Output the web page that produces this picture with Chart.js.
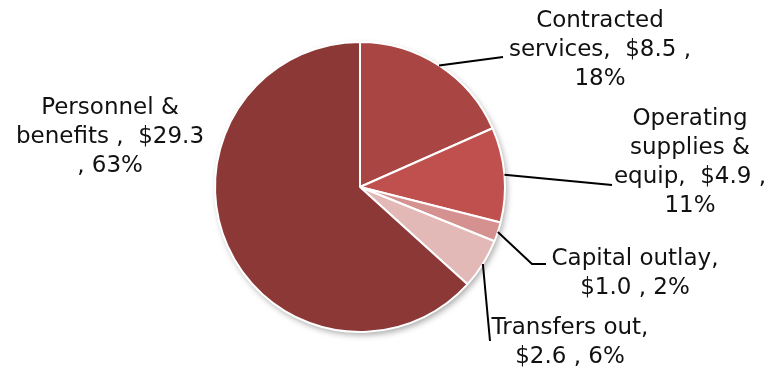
<!DOCTYPE html>
<html>
<head>
<meta charset="utf-8">
<script src="https://cdn.jsdelivr.net/npm/chart.js@4"></script>
<style>
  html, body { margin: 0; padding: 0; background: #fff; }
  #wrap { width: 769px; height: 376px; }
</style>
</head>
<body>
<div id="wrap"><canvas id="pie"></canvas></div>
<script>
// categorias e valores (milhões de $)
const categorias = ['Contracted services', 'Operating supplies & equip', 'Capital outlay', 'Transfers out', 'Personnel & benefits'];
const valores = [8.5, 4.9, 1.0, 2.6, 29.3];
const percentuais = ['18%', '11%', '2%', '6%', '63%'];
const cores = ['#A94543', '#C0504D', '#D49190', '#E3B9B8', '#8B3836'];

// linhas de texto de cada rótulo
const rotulos = [
    ['Contracted', 'services,  $8.5 ,', '18%'],
    ['Operating', 'supplies &', 'equip,  $4.9 ,', '11%'],
    ['Capital outlay,', '$1.0 , 2%'],
    ['Transfers out,', '$2.6 , 6%'],
    ['Personnel &', 'benefits ,  $29.3', ', 63%']
];

// posição dos rótulos (centro da 1a linha) e pontos da linha guia
const layoutRotulos = [
    { x: 600, y: 21, leader: [[503, 57]] },
    { x: 690, y: 119, leader: [[612, 185]] },
    { x: 635, y: 259, leader: [[532, 264], [546, 264]] },
    { x: 570, y: 328, leader: [[490, 341]] },
    { x: 110, y: 108, leader: null }
];
const ALTURA_LINHA = 29;

const sombraPlugin = {
    id: 'sombra',
    beforeDatasetsDraw(chart) {
        const arc = chart.getDatasetMeta(0).data[0];
        if (!arc) return;
        const { ctx } = chart;
        ctx.save();
        ctx.shadowColor = 'rgba(0,0,0,0.35)';
        ctx.shadowBlur = 6;
        ctx.shadowOffsetX = 2;
        ctx.shadowOffsetY = 3;
        ctx.beginPath();
        ctx.arc(arc.x, arc.y, arc.outerRadius, 0, Math.PI * 2);
        ctx.fillStyle = '#ffffff';
        ctx.fill();
        ctx.restore();
    }
};

const rotulosPlugin = {
    id: 'rotulos',
    afterDatasetsDraw(chart) {
        const { ctx } = chart;
        const meta = chart.getDatasetMeta(0);
        ctx.save();
        ctx.font = '23px "DejaVu Sans"';
        ctx.fillStyle = '#111';
        ctx.textAlign = 'center';
        ctx.textBaseline = 'middle';
        meta.data.forEach((el, i) => {
            const cfg = layoutRotulos[i];
            if (cfg.leader) {
                const meio = (el.startAngle + el.endAngle) / 2;
                const px = el.x + Math.cos(meio) * el.outerRadius;
                const py = el.y + Math.sin(meio) * el.outerRadius;
                ctx.beginPath();
                ctx.moveTo(px, py);
                cfg.leader.forEach(p => ctx.lineTo(p[0], p[1]));
                ctx.lineWidth = 2;
                ctx.strokeStyle = '#000';
                ctx.stroke();
            }
            rotulos[i].forEach((linha, k) => {
                ctx.fillText(linha, cfg.x, cfg.y + k * ALTURA_LINHA);
            });
        });
        ctx.restore();
    }
};

new Chart(document.getElementById('pie'), {
    type: 'pie',
    data: {
        labels: categorias,
        datasets: [{
            data: valores,
            backgroundColor: cores,
            borderColor: '#ffffff',
            borderWidth: 2
        }]
    },
    options: {
        responsive: true,
        maintainAspectRatio: false,
        animation: false,
        layout: { padding: { left: 100, right: 149, top: 41, bottom: 43 } },
        plugins: {
            legend: { display: false },
            tooltip: { enabled: false }
        }
    },
    plugins: [sombraPlugin, rotulosPlugin]
});
</script>
</body>
</html>
